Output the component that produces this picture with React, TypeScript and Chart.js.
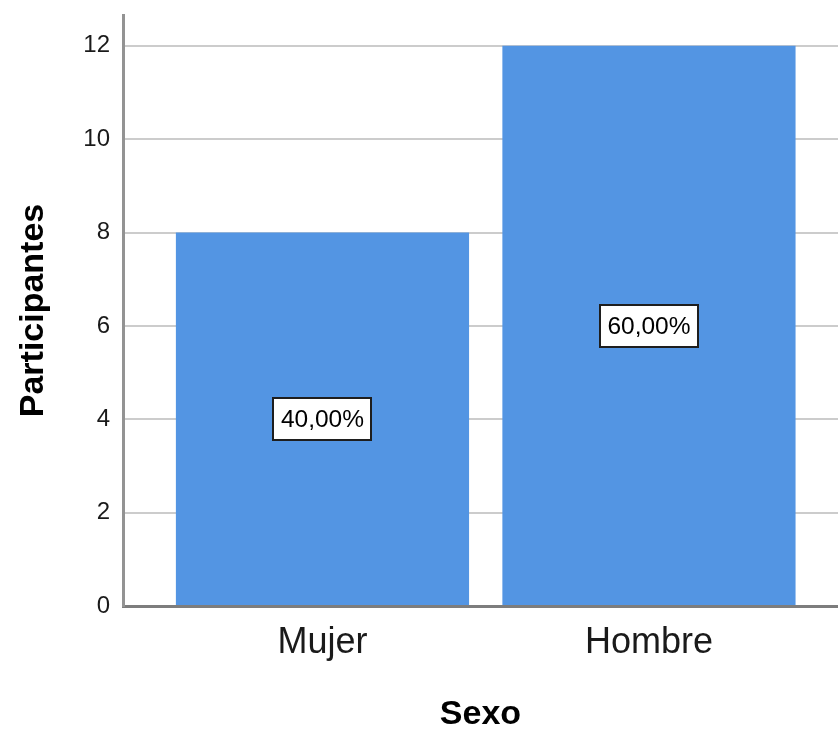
import React, { useEffect, useRef } from 'react';
import { Chart, registerables } from 'chart.js';

Chart.register(...registerables);

// ---- data ----
const categories = ['Mujer', 'Hombre'];
const categoryPositions = [1, 2];
const participants = [8, 12];
const yTickValues = [0, 2, 4, 6, 8, 10, 12];
const yMin = 0;
const yMax = 12.66;
const xMin = 0.389;
const xMax = 2.579;
const xTitle = 'Sexo';
const yTitle = 'Participantes';

const FONT = "'Liberation Sans', Arial, Helvetica, sans-serif";

export default function App() {
  const ref = useRef<HTMLCanvasElement>(null);

  useEffect(() => {
    if (!ref.current) return;
    const total = participants.reduce((a, b) => a + b, 0);
    const pctLabels = participants.map(
      (v) => (v / total * 100).toFixed(2).replace('.', ',') + '%'
    );

    const boxLabels = {
      id: 'boxLabels',
      afterDatasetsDraw(chart: any) {
        const ctx = chart.ctx;
        const meta = chart.getDatasetMeta(0);
        const ys = chart.scales.y;
        ctx.save();
        ctx.font = `24.5px ${FONT}`;
        ctx.textAlign = 'center';
        ctx.textBaseline = 'middle';
        meta.data.forEach((bar: any, i: number) => {
          const x = bar.x;
          const y = ys.getPixelForValue(participants[i] / 2);
          const text = pctLabels[i];
          const w = Math.round(ctx.measureText(text).width + 15);
          const h = 42;
          const bx = Math.round(x - w / 2);
          const by = Math.round(y - h / 2);
          ctx.fillStyle = '#ffffff';
          ctx.fillRect(bx, by, w, h);
          ctx.lineWidth = 2;
          ctx.strokeStyle = '#1e1e1e';
          ctx.strokeRect(bx, by, w, h);
          ctx.fillStyle = '#000000';
          ctx.fillText(text, x, y + 1);
        });
        ctx.restore();
      },
    };

    const chart = new Chart(ref.current, {
      type: 'bar',
      data: {
        datasets: [
          {
            data: categoryPositions.map((x, i) => ({ x, y: participants[i] })),
            backgroundColor: '#5395E3',
            borderWidth: 0,
            barPercentage: 0.898,
            categoryPercentage: 1,
          },
        ],
      },
      options: {
        responsive: false,
        animation: false,
        layout: { padding: { top: 15, right: 0, bottom: 0, left: 0 } },
        plugins: {
          legend: { display: false },
          tooltip: { enabled: false },
        },
        scales: {
          x: {
            type: 'linear',
            offset: false,
            min: xMin,
            max: xMax,
            afterFit: (s: any) => {
              s.height = 127;
              s.paddingLeft = 0;
              s.paddingRight = 0;
            },
            afterBuildTicks: (s: any) => {
              s.ticks = categoryPositions.map((v) => ({ value: v }));
            },
            grid: { display: false, drawTicks: false },
            border: { display: true, color: '#7d7d7d', width: 3 },
            ticks: {
              padding: 15,
              color: '#1a1a1a',
              font: { family: FONT, size: 36 },
              callback: (v: any) => {
                const idx = categoryPositions.indexOf(Number(v));
                return idx >= 0 ? categories[idx] : '';
              },
            },
            title: {
              display: true,
              text: xTitle,
              color: '#000',
              font: { family: FONT, size: 34, weight: 'bold', lineHeight: 1 },
              padding: { top: 0, bottom: 1 },
            },
          },
          y: {
            type: 'linear',
            min: yMin,
            max: yMax,
            afterFit: (s: any) => {
              s.width = 123;
              s.paddingTop = 0;
              s.paddingBottom = 0;
            },
            afterBuildTicks: (s: any) => {
              s.ticks = yTickValues.map((v) => ({ value: v }));
            },
            grid: { color: '#cccccc', lineWidth: 2, drawTicks: false },
            border: { display: true, color: '#939393', width: 3 },
            ticks: {
              padding: 13,
              color: '#1a1a1a',
              font: { family: FONT, size: 24 },
            },
            title: {
              display: true,
              text: yTitle,
              color: '#000',
              font: { family: FONT, size: 34, weight: 'bold', lineHeight: 1 },
              padding: { top: 17, bottom: 0 },
            },
          },
        },
      },
      plugins: [boxLabels],
    } as any);

    return () => chart.destroy();
  }, []);

  return (
    <div style={{ position: 'fixed', left: 0, top: 0, width: 838, height: 733, background: '#fff' }}>
      <canvas ref={ref} width={838} height={733} style={{ display: 'block', width: 838, height: 733 }} />
    </div>
  );
}
